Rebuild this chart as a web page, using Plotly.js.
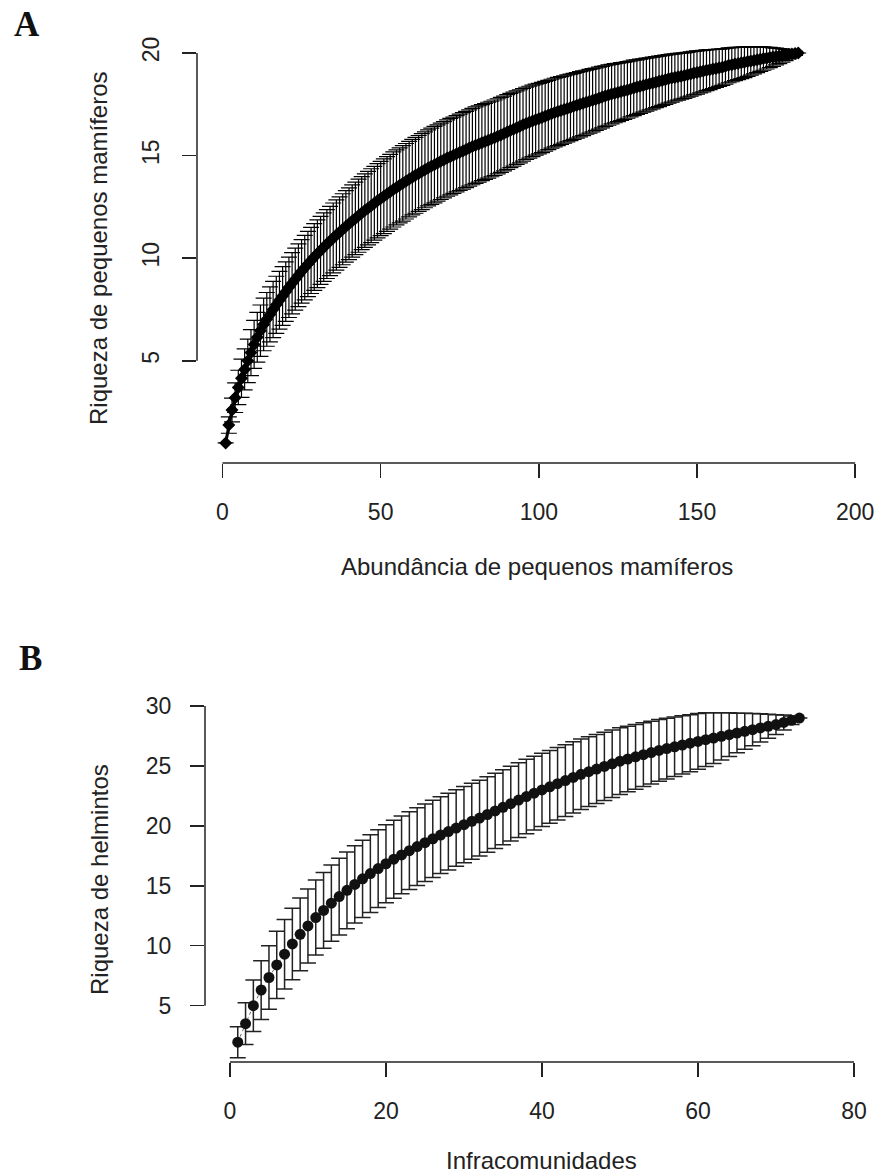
<!DOCTYPE html>
<html>
<head>
<meta charset="utf-8">
<script src="https://cdn.plot.ly/plotly-3.0.1.min.js"></script>
<style>html,body{margin:0;padding:0;background:#fff;}#chart{width:877px;height:1173px;}</style>
</head>
<body>
<div id="chart"></div>
<script>
// ---------- Panel A: small mammals (richness vs abundance) ----------
const richnessA = [
 1.00, 1.87, 2.60, 3.20, 3.70, 4.15, 4.58, 5.00, 5.40, 5.80,
 6.15, 6.47, 6.77, 7.02, 7.26, 7.50, 7.73, 7.95, 8.16, 8.37,
 8.58, 8.78, 8.98, 9.17, 9.36, 9.54, 9.72, 9.89, 10.06, 10.22,
 10.38, 10.54, 10.69, 10.84, 10.99, 11.13, 11.27, 11.41, 11.55, 11.68,
 11.81, 11.94, 12.07, 12.20, 12.32, 12.44, 12.56, 12.68, 12.80, 12.91,
 13.02, 13.13, 13.24, 13.35, 13.45, 13.55, 13.65, 13.75, 13.85, 13.95,
 14.04, 14.13, 14.22, 14.31, 14.40, 14.48, 14.56, 14.64, 14.72, 14.80,
 14.88, 14.95, 15.02, 15.09, 15.16, 15.23, 15.30, 15.37, 15.44, 15.51,
 15.57, 15.63, 15.69, 15.75, 15.81, 15.87, 15.94, 16.01, 16.08, 16.15,
 16.22, 16.29, 16.36, 16.43, 16.50, 16.57, 16.63, 16.69, 16.75, 16.80,
 16.86, 16.92, 16.98, 17.04, 17.10, 17.15, 17.20, 17.25, 17.30, 17.35,
 17.40, 17.45, 17.50, 17.55, 17.60, 17.65, 17.70, 17.75, 17.80, 17.85,
 17.90, 17.95, 18.00, 18.04, 18.08, 18.12, 18.16, 18.20, 18.25, 18.30,
 18.34, 18.38, 18.42, 18.46, 18.50, 18.54, 18.58, 18.62, 18.66, 18.70,
 18.74, 18.78, 18.81, 18.84, 18.87, 18.90, 18.94, 18.98, 19.02, 19.05,
 19.09, 19.12, 19.16, 19.19, 19.22, 19.25, 19.28, 19.31, 19.35, 19.40,
 19.43, 19.46, 19.49, 19.52, 19.55, 19.58, 19.61, 19.64, 19.67, 19.70,
 19.73, 19.75, 19.78, 19.80, 19.83, 19.85, 19.88, 19.90, 19.93, 19.95, 19.98, 20.00
];
const ciA = [
 0.00, 0.40, 0.58, 0.72, 0.84, 0.93, 1.00, 1.06, 1.12, 1.17,
 1.21, 1.25, 1.28, 1.31, 1.34, 1.37, 1.39, 1.41, 1.43, 1.45,
 1.47, 1.49, 1.51, 1.53, 1.55, 1.57, 1.59, 1.61, 1.63, 1.65,
 1.66, 1.67, 1.68, 1.69, 1.70, 1.71, 1.72, 1.73, 1.74, 1.75,
 1.76, 1.77, 1.78, 1.78, 1.79, 1.79, 1.80, 1.80, 1.81, 1.81,
 1.82, 1.82, 1.82, 1.83, 1.83, 1.83, 1.84, 1.84, 1.84, 1.84,
 1.85, 1.85, 1.85, 1.85, 1.85, 1.86, 1.86, 1.86, 1.86, 1.86,
 1.86, 1.86, 1.86, 1.86, 1.86, 1.86, 1.86, 1.86, 1.86, 1.86,
 1.86, 1.85, 1.85, 1.85, 1.84, 1.84, 1.83, 1.83, 1.82, 1.82,
 1.81, 1.80, 1.79, 1.78, 1.77, 1.76, 1.75, 1.74, 1.73, 1.72,
 1.71, 1.70, 1.69, 1.68, 1.67, 1.66, 1.65, 1.64, 1.63, 1.62,
 1.61, 1.60, 1.59, 1.58, 1.56, 1.55, 1.54, 1.52, 1.51, 1.50,
 1.48, 1.47, 1.45, 1.44, 1.42, 1.41, 1.39, 1.38, 1.36, 1.35,
 1.33, 1.32, 1.30, 1.29, 1.27, 1.26, 1.24, 1.23, 1.21, 1.20,
 1.18, 1.17, 1.15, 1.14, 1.12, 1.11, 1.09, 1.08, 1.06, 1.05,
 1.03, 1.01, 0.99, 0.97, 0.95, 0.93, 0.91, 0.89, 0.87, 0.85,
 0.83, 0.81, 0.79, 0.77, 0.75, 0.72, 0.69, 0.66, 0.63, 0.60,
 0.57, 0.53, 0.49, 0.45, 0.41, 0.37, 0.32, 0.27, 0.22, 0.16, 0.10, 0.00
];
const abundanceA = richnessA.map((_, i) => i + 1); // sample sizes 1..182
const xTicksA = [0, 50, 100, 150, 200];
const yTicksA = [5, 10, 15, 20];
const xTitleA = "Abundância de pequenos mamíferos";
const yTitleA = "Riqueza de pequenos mamíferos";

// ---------- Panel B: helminths (richness vs infracommunities) ----------
const richnessB = [
 1.95, 3.50, 5.00, 6.30, 7.35, 8.40, 9.30, 10.15, 10.95, 11.65,
 12.35, 12.95, 13.55, 14.10, 14.62, 15.12, 15.58, 16.02, 16.44, 16.84,
 17.22, 17.58, 17.93, 18.27, 18.60, 18.92, 19.23, 19.53, 19.82, 20.10,
 20.38, 20.65, 20.95, 21.25, 21.55, 21.85, 22.15, 22.45, 22.73, 23.00,
 23.26, 23.52, 23.78, 24.04, 24.30, 24.52, 24.74, 24.96, 25.18, 25.40,
 25.58, 25.76, 25.94, 26.12, 26.30, 26.45, 26.60, 26.75, 26.90, 27.05,
 27.19, 27.33, 27.47, 27.61, 27.75, 27.89, 28.03, 28.17, 28.31, 28.45,
 28.63, 28.81, 29.00
];
const ciB = [
 1.30, 1.75, 2.15, 2.45, 2.65, 2.80, 2.90, 2.98, 3.04, 3.09,
 3.13, 3.16, 3.18, 3.20, 3.21, 3.22, 3.23, 3.24, 3.24, 3.25,
 3.25, 3.25, 3.24, 3.24, 3.23, 3.22, 3.21, 3.20, 3.19, 3.18,
 3.17, 3.16, 3.15, 3.14, 3.13, 3.12, 3.11, 3.10, 3.08, 3.06,
 3.04, 3.02, 3.00, 2.97, 2.94, 2.91, 2.88, 2.85, 2.82, 2.78,
 2.74, 2.70, 2.66, 2.62, 2.58, 2.53, 2.48, 2.43, 2.38, 2.32,
 2.24, 2.12, 1.98, 1.82, 1.65, 1.50, 1.35, 1.18, 1.00, 0.82,
 0.62, 0.35, 0.00
];
const sitesB = richnessB.map((_, i) => i + 1); // infracommunities 1..73
const xTicksB = [0, 20, 40, 60, 80];
const yTicksB = [5, 10, 15, 20, 25, 30];
const xTitleB = "Infracomunidades";
const yTitleB = "Riqueza de helmintos";

// ---------- layout geometry (pixels of the 877x1173 figure) ----------
const W = 877, H = 1173;
const FONT = "Liberation Sans, Arial, Helvetica, sans-serif";
const INK = "#222";
const px = v => v / W;            // x pixel -> paper
const py = v => 1 - v / H;        // y pixel -> paper

const axisCommon = {
  showline: false, zeroline: false, showgrid: false,
  ticks: "outside", ticklen: 14, tickwidth: 1.5, tickcolor: INK,
  tickfont: {family: FONT, size: 23, color: INK},
  tickmode: "array", fixedrange: true
};

const traces = [
  {
    x: abundanceA, y: richnessA, xaxis: "x", yaxis: "y",
    type: "scatter", mode: "lines+markers",
    line: {color: "#000", width: 3},
    marker: {symbol: "diamond", size: 10, color: "#000"},
    error_y: {type: "data", array: ciA, visible: true, color: "#000", thickness: 1.2, width: 8},
    hoverinfo: "x+y", showlegend: false
  },
  {
    x: sitesB, y: richnessB, xaxis: "x2", yaxis: "y2",
    type: "scatter", mode: "lines+markers",
    line: {color: "#666", width: 1, dash: "dot"},
    marker: {symbol: "circle", size: 11, color: "#111"},
    error_y: {type: "data", array: ciB, visible: true, color: "#222", thickness: 1.5, width: 8},
    hoverinfo: "x+y", showlegend: false
  }
];

const axisLine = {color: INK, width: 1.5};
const layout = {
  width: W, height: H,
  margin: {l: 0, r: 0, t: 0, b: 0},
  paper_bgcolor: "#fff", plot_bgcolor: "#fff",
  showlegend: false,
  xaxis: Object.assign({}, axisCommon, {
    domain: [px(197), 1], range: [-8.06, 206.9],
    tickvals: xTicksA, anchor: "y", ticklabelstandoff: 14
  }),
  yaxis: Object.assign({}, axisCommon, {
    domain: [py(463), py(37)], range: [0.02, 20.78],
    tickvals: yTicksA, anchor: "x", tickangle: -90, ticklabelstandoff: 14
  }),
  xaxis2: Object.assign({}, axisCommon, {
    domain: [px(205), 1], range: [-3.2, 82.95],
    tickvals: xTicksB, anchor: "y2", ticklabelstandoff: 14
  }),
  yaxis2: Object.assign({}, axisCommon, {
    domain: [py(1062), py(704)], range: [0.3, 30.17],
    tickvals: yTicksB, anchor: "x2", ticklabelstandoff: 14
  }),
  shapes: [
    {type: "line", xref: "x", yref: "y domain", x0: xTicksA[0], x1: xTicksA[xTicksA.length - 1], y0: 0, y1: 0, line: axisLine},
    {type: "line", xref: "x domain", yref: "y", x0: 0, x1: 0, y0: yTicksA[0], y1: yTicksA[yTicksA.length - 1], line: axisLine},
    {type: "line", xref: "x2", yref: "y2 domain", x0: xTicksB[0], x1: xTicksB[xTicksB.length - 1], y0: 0, y1: 0, line: axisLine},
    {type: "line", xref: "x2 domain", yref: "y2", x0: 0, x1: 0, y0: yTicksB[0], y1: yTicksB[yTicksB.length - 1], line: axisLine}
  ],
  annotations: [
    {text: "A", xref: "paper", yref: "paper", x: px(27), y: py(25), showarrow: false,
     xanchor: "center", yanchor: "middle", font: {family: "Liberation Serif, Times New Roman, serif", size: 35, color: "#111", weight: "bold"}},
    {text: "B", xref: "paper", yref: "paper", x: px(30), y: py(658), showarrow: false,
     xanchor: "center", yanchor: "middle", font: {family: "Liberation Serif, Times New Roman, serif", size: 35, color: "#111", weight: "bold"}},
    {text: xTitleA, xref: "paper", yref: "paper", x: px(537), y: py(566), showarrow: false,
     xanchor: "center", yanchor: "middle", font: {family: FONT, size: 24, color: INK}},
    {text: yTitleA, xref: "paper", yref: "paper", x: px(98), y: py(248), showarrow: false, textangle: -90,
     xanchor: "center", yanchor: "middle", font: {family: FONT, size: 24, color: INK}},
    {text: xTitleB, xref: "paper", yref: "paper", x: px(541), y: py(1160), showarrow: false,
     xanchor: "center", yanchor: "middle", font: {family: FONT, size: 24, color: INK}},
    {text: yTitleB, xref: "paper", yref: "paper", x: px(99), y: py(880), showarrow: false, textangle: -90,
     xanchor: "center", yanchor: "middle", font: {family: FONT, size: 24, color: INK}}
  ]
};

Plotly.newPlot("chart", traces, layout, {displayModeBar: false, staticPlot: true});
</script>
</body>
</html>
